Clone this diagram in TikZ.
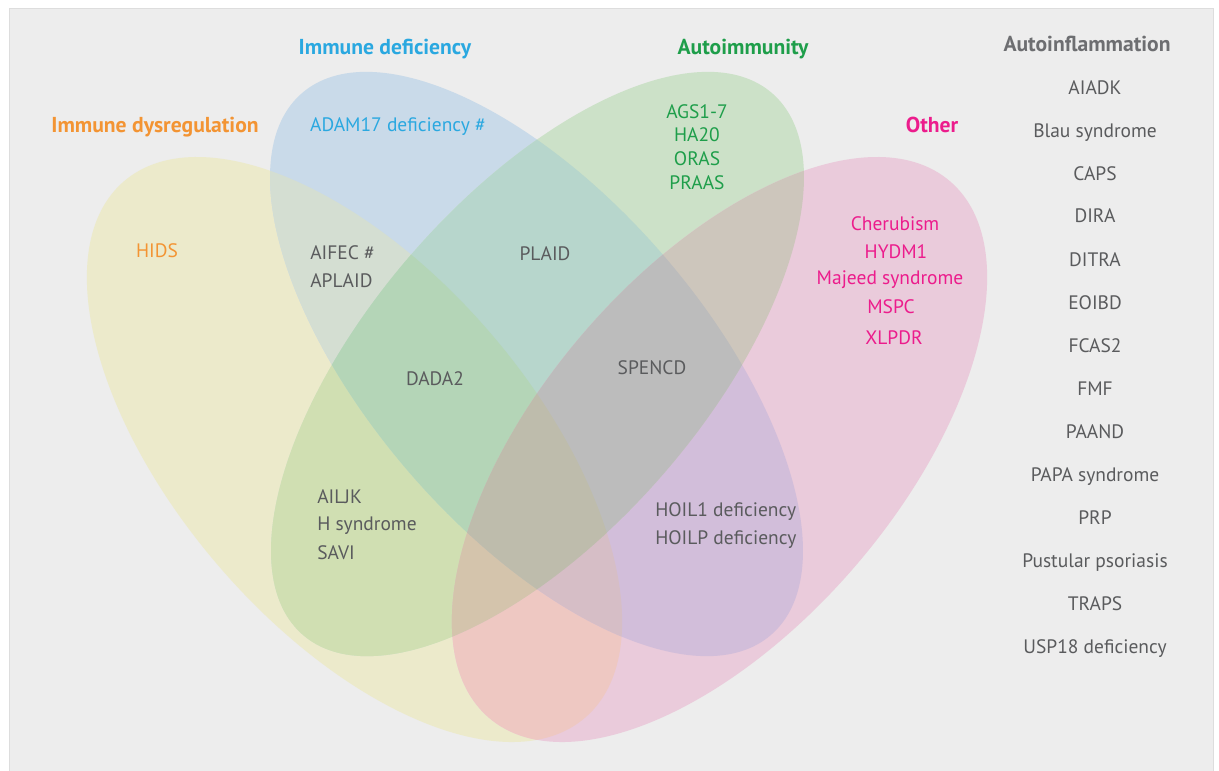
\documentclass[tikz,border=0pt]{standalone}
\usepackage{fontspec}
\setmainfont{PT Sans}
\definecolor{panel}{HTML}{EDEDED}
\definecolor{panelline}{HTML}{DDDDDD}
% region colours (Y yellow, B blue, G green, P pink)
\definecolor{rY}{RGB}{236,234,203}
\definecolor{rB}{RGB}{201,218,233}
\definecolor{rG}{RGB}{204,225,200}
\definecolor{rP}{RGB}{234,203,219}
\definecolor{rYB}{RGB}{212,222,210}
\definecolor{rYG}{RGB}{208,223,178}
\definecolor{rYP}{RGB}{238,200,194}
\definecolor{rBG}{RGB}{183,214,204}
\definecolor{rBP}{RGB}{210,190,218}
\definecolor{rGP}{RGB}{205,198,188}
\definecolor{rYBG}{RGB}{180,213,183}
\definecolor{rYBP}{RGB}{214,190,198}
\definecolor{rYGP}{RGB}{212,196,172}
\definecolor{rBGP}{RGB}{188,188,188}
\definecolor{rYBGP}{RGB}{190,188,172}
\definecolor{torange}{HTML}{F39433}
\definecolor{tblue}{HTML}{2AA8E0}
\definecolor{tgreen}{HTML}{1E9E4A}
\definecolor{tpink}{HTML}{EC1C8C}
\definecolor{thead}{HTML}{6D6E71}
\definecolor{titem}{HTML}{5A5B5D}
\tikzset{
  item/.style={font=\fontsize{14.6pt}{17pt}\selectfont, text=titem, inner sep=0pt, text depth=0pt},
  head/.style={font=\fontsize{16.2pt}{19pt}\selectfont\bfseries, inner sep=0pt, text depth=0pt},
  shY/.style={shift={(354.5,449.5)}, rotate=-49.3},
  shB/.style={shift={(536.5,364)}, rotate=-49.1},
  shG/.style={shift={(537.5,364)}, rotate=49.1},
  shP/.style={shift={(719.5,449.5)}, rotate=49.3},
}
\newcommand\elY{\clip[shY] (0,0) ellipse [x radius=353.7, y radius=179];}
\newcommand\elB{\clip[shB] (0,0) ellipse [x radius=358.3, y radius=167.1];}
\newcommand\elG{\clip[shG] (0,0) ellipse [x radius=358.3, y radius=167.1];}
\newcommand\elP{\clip[shP] (0,0) ellipse [x radius=353.7, y radius=179];}
\newcommand\regfill[2]{\begin{scope}#1\fill[#2] (0,0) rectangle (1219,770);\end{scope}}
\begin{document}
\begin{tikzpicture}[x=0.75pt,y=-0.75pt]
\useasboundingbox (0,0) rectangle (1219,770);
\fill[white] (0,0) rectangle (1219,770);
\filldraw[fill=panel, draw=panelline, line width=0.6pt] (9,8) rectangle (1213,772);
% single sets
\regfill{\elY}{rY}
\regfill{\elB}{rB}
\regfill{\elG}{rG}
\regfill{\elP}{rP}
% pairs
\regfill{\elY\elB}{rYB}
\regfill{\elY\elG}{rYG}
\regfill{\elY\elP}{rYP}
\regfill{\elB\elG}{rBG}
\regfill{\elB\elP}{rBP}
\regfill{\elG\elP}{rGP}
% triples
\regfill{\elY\elB\elG}{rYBG}
\regfill{\elY\elB\elP}{rYBP}
\regfill{\elY\elG\elP}{rYGP}
\regfill{\elB\elG\elP}{rBGP}
% all four
\regfill{\elY\elB\elG\elP}{rYBGP}
% headings
\node[head, text=torange] (hdys) at (155,125) {Immune dysregulation};
\node[head, text=tblue] (hdef) at (385,47) {Immune deficiency};
\node[head, text=tgreen] (hauto) at (743,47) {Autoimmunity};
\node[head, text=tpink] (hoth) at (932,125) {Other};
\node[head, text=thead] (hinf) at (1087,44) {Autoinflammation};
% autoinflammation list
\node[item] (a1) at (1095,88) {AIADK};
\node[item] (a2) at (1095,131) {Blau syndrome};
\node[item] (a3) at (1095,174) {CAPS};
\node[item] (a4) at (1095,216) {DIRA};
\node[item] (a5) at (1095,260) {DITRA};
\node[item] (a6) at (1095,303) {EOIBD};
\node[item] (a7) at (1095,346) {FCAS2};
\node[item] (a8) at (1095,389) {FMF};
\node[item] (a9) at (1095,432) {PAAND};
\node[item] (a10) at (1095,475) {PAPA syndrome};
\node[item] (a11) at (1095,518) {PRP};
\node[item] (a12) at (1095,561) {Pustular psoriasis};
\node[item] (a13) at (1095,604) {TRAPS};
\node[item] (a14) at (1095,647) {USP18 deficiency};
% region items
\node[item, text=tblue] (adam) at (398,125) {ADAM17 deficiency \#};
\node[item, text=torange] (hids) at (157,251) {HIDS};
\node[item, anchor=west] (aifec) at (310,253) {AIFEC \#};
\node[item, anchor=west] (aplaid) at (310,281) {APLAID};
\node[item] (plaid) at (545,254) {PLAID};
\node[item, text=tgreen] (ags) at (697,112) {AGS1-7};
\node[item, text=tgreen] (ha20) at (697,135) {HA20};
\node[item, text=tgreen] (oras) at (697,159) {ORAS};
\node[item, text=tgreen] (praas) at (697,183) {PRAAS};
\node[item, text=tpink] (cher) at (895,224) {Cherubism};
\node[item, text=tpink] (hydm) at (896,252) {HYDM1};
\node[item, text=tpink] (majeed) at (890,278) {Majeed syndrome};
\node[item, text=tpink] (mspc) at (891,307) {MSPC};
\node[item, text=tpink] (xlpdr) at (894,338) {XLPDR};
\node[item] (dada) at (435,379) {DADA2};
\node[item] (spencd) at (652,368) {SPENCD};
\node[item, anchor=west] (ailjk) at (317,497) {AILJK};
\node[item, anchor=west] (hsyn) at (317,524) {H syndrome};
\node[item, anchor=west] (savi) at (317,553) {SAVI};
\node[item, anchor=west] (hoil1) at (655,510) {HOIL1 deficiency};
\node[item, anchor=west] (hoilp) at (655,538) {HOILP deficiency};
\end{tikzpicture}
\end{document}
